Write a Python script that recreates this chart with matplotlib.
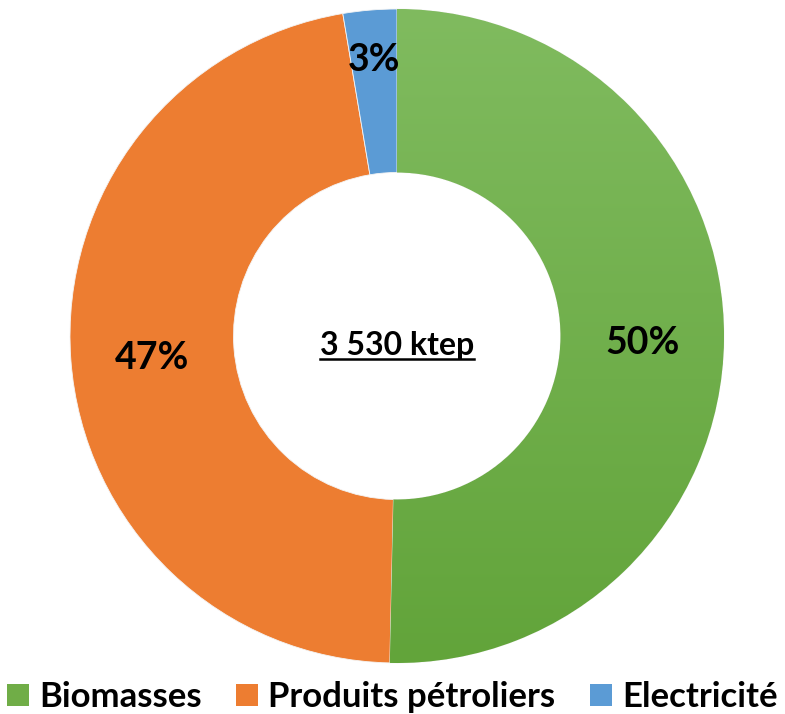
import matplotlib
matplotlib.use("Agg")
import matplotlib.pyplot as plt
import numpy as np
from matplotlib.colors import LinearSegmentedColormap
from matplotlib.patches import Patch

categories = ["Biomasses", "Produits pétroliers", "Electricité"]
shares = [50.35, 47.0, 2.65]
pct_labels = ["50%", "47%", "3%"]
total_label = "3 530 ktep"
colors = ["#70ad47", "#ed7d31", "#5b9bd5"]

plt.rcParams['font.family'] = ['Lato', 'DejaVu Sans']

W, H = 785, 714
fig = plt.figure(figsize=(W / 100, H / 100), dpi=100)
cx, cy, R = 397, 336, 327
ax = fig.add_axes([(cx - R) / W, (H - cy - R) / H, 2 * R / W, 2 * R / H])

wedges, _ = ax.pie(shares, colors=colors, startangle=90, counterclock=False,
                   radius=1, wedgeprops=dict(width=0.5, edgecolor='#f4f4f4', linewidth=0.6))

# gradient on the green slice
cmap = LinearSegmentedColormap.from_list('g', ['#62a43a', '#80bb5f'])
grad = np.linspace(0, 1, 256).reshape(-1, 1)
im = ax.imshow(grad, extent=[-1, 1, -1, 1], origin='lower', cmap=cmap,
               aspect='auto', zorder=wedges[0].get_zorder() + 0.1)
im.set_clip_path(wedges[0])
ax.set_xlim(-1, 1)
ax.set_ylim(-1, 1)
ax.set_aspect('equal')
ax.axis('off')

label_r = [0.75, 0.75, 0.86]
for w, lab, r in zip(wedges, pct_labels, label_r):
    ang = np.deg2rad((w.theta1 + w.theta2) / 2)
    ax.text(r * np.cos(ang), r * np.sin(ang) - 0.012, lab, ha='center', va='center',
            fontsize=27, fontweight='bold', color='black', zorder=5)

txt = ax.text(0, -0.03, total_label, ha='center', va='center', fontsize=23,
              fontweight='bold', color='black', zorder=5)
fig.canvas.draw()
bb = txt.get_window_extent().transformed(ax.transData.inverted())
ax.plot([bb.x0, bb.x1], [bb.y0 + 0.003, bb.y0 + 0.003], color='black', lw=1.8, zorder=5)

handles = [Patch(facecolor=c, edgecolor='none') for c in colors]
fig.legend(handles, categories, loc='lower center', ncol=3, frameon=False,
           bbox_to_anchor=(0.5, -0.043), handlelength=0.62, handleheight=0.62,
           handletextpad=0.3, columnspacing=1.0,
           prop=dict(family=['Lato', 'DejaVu Sans'], weight='bold', size=25))

fig.savefig('out.png', dpi=100, facecolor='white')
